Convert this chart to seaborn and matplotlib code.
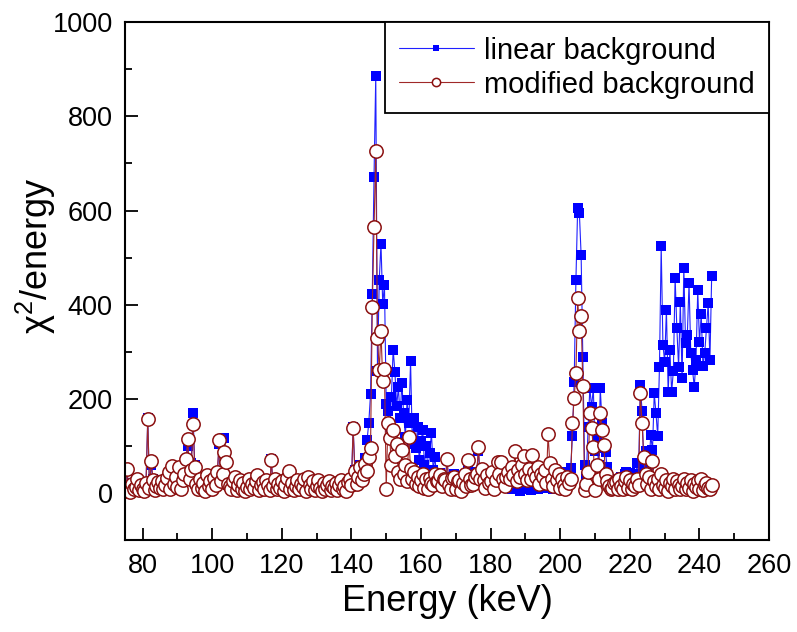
import numpy as np
import pandas as pd
import matplotlib
matplotlib.use('Agg')
import matplotlib.pyplot as plt
import seaborn as sns
from matplotlib.ticker import MultipleLocator

# energy grid of the spectrum (keV)
e_start = 75.0
e_step = 0.5

# chi^2/energy with linear background, 10 keV per row
lin_low = [7, 48, 10, 5, 22, 9, 16, 26, 8, 15, 12, 6, 20, 160, 10, 60, 30, 8, 13, 22,
           10, 22, 12, 15, 28, 40, 12, 50, 18, 30, 16, 48, 10, 25, 36, 65, 100, 28, 64, 170,
           60, 18, 10, 28, 14, 20, 8, 35, 12, 24, 12, 30, 16, 42, 105, 30, 45, 117, 70, 18,
           14, 10, 22, 30, 8, 16, 25, 12, 20, 6, 12, 28, 10, 18, 14, 24, 35, 8, 16, 22,
           12, 25, 16, 8, 72, 14, 28, 10, 18, 14, 22, 6, 16, 30, 44, 12, 20, 8, 14, 26,
           10, 18, 12, 28, 6, 30, 16, 12, 22, 8, 15, 25, 14, 5, 20, 10, 16, 24, 8, 14]
lin_peak1 = [14, 20, 8, 16, 25, 12, 14, 8, 22, 28, 20, 140, 50, 25, 38, 60, 35, 50, 75, 112,
             150, 210, 422, 671, 886, 259, 452, 530, 401, 443, 190, 175, 140, 205, 305, 258, 185, 225, 160, 234,
             170, 120, 197, 150, 280, 105, 160, 95, 140, 70, 110, 134, 60, 100, 45, 85, 127, 50, 76, 35]
lin_mid = [30, 42, 18, 25, 35, 70, 20, 15, 28, 40, 12, 22, 30, 8, 25, 35, 18, 60, 28, 20,
           22, 38, 45, 90, 25, 48, 30, 15, 35, 20, 28, 40, 12, 25, 62, 35, 60, 28, 18, 30,
           15, 30, 8, 20, 25, 12, 18, 5, 22, 28, 10, 15, 30, 6, 20, 12, 25, 8, 18, 22]
lin_peak2 = [20, 12, 28, 35, 18, 25, 10, 30, 15, 22, 8, 35, 20, 12, 45, 25, 53, 121, 236, 452,
             605, 594, 505, 289, 60, 35, 140, 223, 183, 223, 90, 120, 60, 223, 149, 95, 87, 55, 30, 20,
             15, 25, 10, 30, 20, 35, 28, 40, 45, 30, 42, 25, 35, 20, 64, 40, 229, 175, 63, 90]
lin_high = [45, 60, 123, 91, 212, 170, 121, 268, 524, 314, 279, 390, 214, 304, 215, 260, 457, 350, 268, 406,
            244, 478, 318, 335, 446, 297, 261, 226, 282, 431, 320, 381, 270, 297, 350, 403, 282, 461]

# chi^2/energy with modified background
mod_low = [5, 52, 12, 3, 20, 8, 14, 30, 6, 18, 10, 4, 22, 157, 12, 68, 28, 6, 15, 24,
           12, 25, 8, 18, 32, 45, 10, 57, 20, 35, 14, 55, 8, 28, 40, 72, 115, 30, 49, 146,
           55, 20, 8, 30, 12, 22, 5, 38, 15, 26, 10, 32, 18, 45, 112, 25, 40, 87, 66, 20,
           15, 8, 25, 34, 6, 18, 28, 10, 22, 5, 14, 30, 9, 20, 12, 26, 38, 7, 18, 24,
           10, 28, 18, 6, 70, 15, 30, 8, 20, 12, 25, 5, 18, 32, 47, 10, 22, 6, 15, 28,
           8, 20, 14, 30, 5, 34, 18, 10, 25, 6, 16, 28, 12, 4, 22, 9, 18, 26, 7, 15]
mod_peak1 = [12, 22, 6, 18, 28, 10, 15, 5, 24, 30, 18, 138, 47, 20, 35, 55, 28, 40, 62, 48,
             77, 96, 396, 565, 726, 330, 261, 344, 238, 263, 10, 149, 117, 60, 134, 80, 104, 45, 30, 91,
             40, 60, 25, 119, 51, 30, 45, 20, 35, 15, 28, 40, 12, 30, 8, 32, 22, 18, 40, 25]
mod_mid = [25, 38, 15, 30, 28, 72, 18, 10, 32, 35, 8, 25, 28, 5, 22, 40, 15, 70, 30, 18,
           20, 35, 40, 98, 30, 51, 28, 12, 38, 22, 25, 45, 10, 28, 66, 40, 66, 30, 15, 35,
           45, 30, 55, 38, 89, 25, 50, 35, 60, 79, 40, 28, 52, 30, 81, 45, 35, 55, 20, 40]
mod_peak2 = [35, 50, 22, 125, 64, 30, 15, 49, 28, 40, 12, 30, 18, 10, 35, 22, 30, 149, 202, 255,
             414, 344, 376, 227, 6, 20, 45, 170, 138, 98, 6, 60, 30, 170, 134, 102, 40, 25, 15, 10,
             12, 22, 23, 8, 30, 15, 10, 25, 35, 12, 28, 8, 20, 15, 30, 18, 212, 149, 76, 40]
mod_high = [20, 35, 10, 69, 25, 15, 30, 8, 40, 18, 12, 28, 5, 22, 15, 30, 10, 25, 18, 8,
            15, 30, 8, 22, 12, 28, 5, 20, 14, 25, 10, 30, 6, 18, 22, 12, 8, 18]

lin = np.array(lin_low + lin_peak1 + lin_mid + lin_peak2 + lin_high, dtype=float)
mod = np.array(mod_low + mod_peak1 + mod_mid + mod_peak2 + mod_high, dtype=float)
energy = e_start + e_step * np.arange(len(lin))

df = pd.DataFrame({'Energy': energy, 'linear': lin, 'modified': mod})

sns.set_style('ticks')
plt.rcParams['font.family'] = ['Liberation Sans', 'DejaVu Sans']
plt.rcParams['text.color'] = 'black'
plt.rcParams['axes.labelcolor'] = 'black'

fig, ax = plt.subplots(figsize=(7.97, 6.32), dpi=100)
fig.subplots_adjust(left=0.157, right=0.965, bottom=0.145, top=0.965)

sns.lineplot(data=df, x='Energy', y='linear', ax=ax, estimator=None,
             color='#2020ff', linewidth=0.8, marker='s', markersize=7.6,
             markerfacecolor='#0000ff', markeredgecolor='#0000ff', markeredgewidth=0,
             label='linear background')
sns.lineplot(data=df, x='Energy', y='modified', ax=ax, estimator=None,
             color='#a02828', linewidth=0.8, marker='o', markersize=9.6,
             markerfacecolor='white', markeredgecolor='#8b1010', markeredgewidth=1.1,
             label='modified background')

ax.set_xlim(75, 260)
ax.set_ylim(-100, 1000)
ax.set_xticks(np.arange(80, 261, 20))
ax.set_yticks(np.arange(0, 1001, 200))
ax.xaxis.set_minor_locator(MultipleLocator(10))
ax.yaxis.set_minor_locator(MultipleLocator(100))

ax.tick_params(which='both', direction='in', top=False, right=False, width=1.3,
               labelsize=19.5, pad=9, colors='black')
ax.tick_params(which='major', length=9)
ax.tick_params(which='minor', length=5)
for sp in ax.spines.values():
    sp.set_visible(True)
    sp.set_linewidth(1.5)
    sp.set_color('black')

ax.set_xlabel('Energy (keV)', fontsize=26, color='black')
ax.set_ylabel('χ$^{\\mathregular{2}}$/energy', fontsize=26, color='black')
ax.yaxis.set_label_coords(-0.105, 0.55)

leg = ax.legend(loc='upper right', borderaxespad=0, fontsize=21, fancybox=False,
                edgecolor='black', framealpha=1, handlelength=2.55, handletextpad=0.35,
                markerscale=0.62, labelspacing=0.2, borderpad=0.5, numpoints=1)
leg.get_frame().set_linewidth(1.3)
for t in leg.get_texts():
    t.set_color('black')

fig.savefig('out.png', dpi=100)
